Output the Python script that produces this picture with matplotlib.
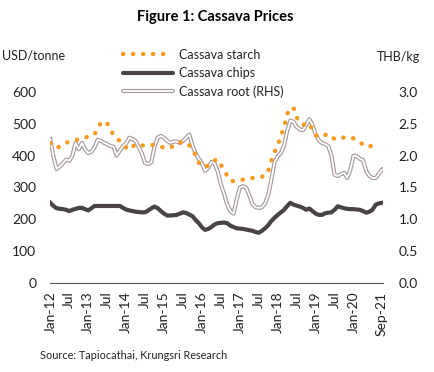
import numpy as np
import matplotlib.pyplot as plt
import matplotlib.patheffects as pe
from matplotlib.lines import Line2D

plt.rcParams['font.family'] = ['Lato', 'DejaVu Sans']

# monthly values, Jan-12 onwards
starch = [439, 430, 424, 429, 435, 441, 443, 446, 448, 452, 455, 457, 459, 460, 468, 481,
          505, 507, 501, 482, 465, 455, 446, 436, 425, 418, 428, 436, 434, 432, 431, 432,
          434, 432, 429, 427, 426, 425, 424, 432, 440, 441, 441, 441, 432, 422, 400, 378,
          366, 367, 368, 376, 385, 388, 372, 352, 338, 321, 320, 321, 322, 325, 328, 329,
          330, 331, 333, 334, 336, 352, 385, 412, 432, 462, 490, 530, 550, 550, 520, 503,
          497, 499, 502, 480, 465, 458, 461, 465, 468, 460, 452, 453, 455, 457, 458, 458,
          454, 447, 441, 435, 428, 428, 433, 439]

chips = [252, 242, 235, 233, 232, 230, 226, 230, 233, 236, 236, 232, 228, 235, 242, 242,
         242, 242, 242, 242, 242, 242, 242, 236, 231, 228, 226, 224, 223, 222, 222, 228,
         235, 240, 235, 226, 218, 212, 212, 213, 214, 218, 222, 220, 215, 210, 198, 188,
         175, 167, 170, 176, 184, 188, 189, 190, 188, 180, 176, 172, 171, 170, 168, 166,
         164, 160, 158, 164, 172, 182, 195, 205, 214, 222, 230, 242, 252, 246, 243, 240,
         236, 230, 234, 226, 218, 214, 214, 219, 221, 222, 230, 241, 238, 235, 233, 232,
         232, 231, 230, 226, 221, 224, 230, 246, 250, 252]

# THB/kg
root = [2.26, 1.98, 1.79, 1.83, 1.88, 1.94, 1.92, 2.00, 2.20, 2.10, 2.20, 2.10, 2.04, 2.06,
        2.13, 2.25, 2.23, 2.20, 2.18, 2.15, 2.14, 2.00, 2.08, 2.15, 2.19, 2.28, 2.26, 2.23,
        2.13, 2.03, 1.88, 1.87, 1.90, 2.15, 2.28, 2.31, 2.28, 2.23, 2.20, 2.22, 2.22, 2.20,
        2.23, 2.28, 2.33, 2.16, 2.03, 1.95, 1.88, 1.76, 1.81, 1.90, 1.88, 1.75, 1.55, 1.40,
        1.23, 1.13, 1.09, 1.31, 1.50, 1.52, 1.50, 1.38, 1.24, 1.19, 1.18, 1.19, 1.25, 1.38,
        1.63, 1.90, 1.99, 2.04, 2.16, 2.39, 2.55, 2.53, 2.45, 2.41, 2.40, 2.48, 2.57, 2.48,
        2.33, 2.24, 2.20, 2.18, 2.15, 2.00, 1.70, 1.68, 1.71, 1.73, 1.65, 1.78, 2.00, 1.99,
        1.95, 1.93, 1.76, 1.68, 1.65, 1.65, 1.71, 1.78]

tick_pos = list(range(0, 97, 6)) + [105]
tick_labels = ['Jan-12', 'Jul', 'Jan-13', 'Jul', 'Jan-14', 'Jul', 'Jan-15', 'Jul',
               'Jan-16', 'Jul', 'Jan-17', 'Jul', 'Jan-18', 'Jul', 'Jan-19', 'Jul',
               'Jan-20', 'Sep-21']

orange = '#f39a1f'
dark = '#4a4343'
taupe = '#a79999'
double_line = [pe.Stroke(linewidth=3.0, foreground=taupe), pe.Normal()]

fig = plt.figure(figsize=(4.35, 3.72), dpi=100)
ax = fig.add_axes([0.115, 0.239, 0.766, 0.514])
ax2 = ax.twinx()

x_s = np.arange(len(starch))
x_c = np.arange(len(chips))
x_r = np.arange(len(root))

ax2.plot(x_r, root, color='white', lw=1.3, path_effects=double_line, zorder=2)

ax.plot(x_c, chips, color=dark, lw=3.0, zorder=2)
ax.plot(x_s, starch, color=orange, lw=3.2, dashes=(0.05, 2.2),
        dash_capstyle='round', zorder=3)

ax.set_zorder(ax2.get_zorder() + 1)
ax.patch.set_visible(False)

ax.set_xlim(-0.1, 105.4)
ax.set_ylim(0, 600)
ax2.set_ylim(0, 3.0)
ax.set_yticks(range(0, 601, 100))
ax2.set_yticks(np.arange(0, 3.01, 0.5))
ax2.set_yticklabels([f'{v:.1f}' for v in np.arange(0, 3.01, 0.5)])
ax.set_xticks(tick_pos)
ax.set_xticklabels(tick_labels, rotation=90)

for a in (ax, ax2):
    for side in ('top', 'left', 'right', 'bottom'):
        a.spines[side].set_visible(False)
ax.spines['bottom'].set_visible(True)
ax.spines['bottom'].set_color('#595959')
ax.spines['bottom'].set_linewidth(0.8)

ax.tick_params(axis='y', length=0, pad=10, labelsize=10, labelcolor='#222222')
ax2.tick_params(axis='y', length=0, pad=11, labelsize=10, labelcolor='#222222')
ax.tick_params(axis='x', length=0, pad=6, labelsize=10, labelcolor='#222222')

fig.text(0.495, 0.955, 'Figure 1: Cassava Prices', ha='center', va='center',
         fontsize=10.5, fontweight='bold')
fig.text(0.005, 0.852, 'USD/tonne', ha='left', va='center', fontsize=9, color='#222222')
fig.text(0.966, 0.848, 'THB/kg', ha='right', va='center', fontsize=9, color='#222222')
fig.text(0.092, 0.045, 'Source: Tapiocathai, Krungsri Research', ha='left', va='center',
         fontsize=7.8, color='#222222')

h_starch = Line2D([], [], color=orange, lw=3.2, dashes=(0.05, 2.2), dash_capstyle='round')
h_chips = Line2D([], [], color=dark, lw=3.0, solid_capstyle='round')
h_root = Line2D([], [], color='white', lw=1.3, solid_capstyle='round',
                path_effects=[pe.Stroke(linewidth=3.0, foreground=taupe,
                                        capstyle='round'), pe.Normal()])
fig.legend([h_starch, h_chips, h_root],
           ['Cassava starch', 'Cassava chips', 'Cassava root (RHS)'],
           loc='upper left', bbox_to_anchor=(0.283, 0.869), frameon=False,
           fontsize=9, handlelength=4.0, handletextpad=0.45, labelspacing=0.5,
           borderpad=0, borderaxespad=0, labelcolor='#222222')

fig.savefig('out.png', dpi=100)
